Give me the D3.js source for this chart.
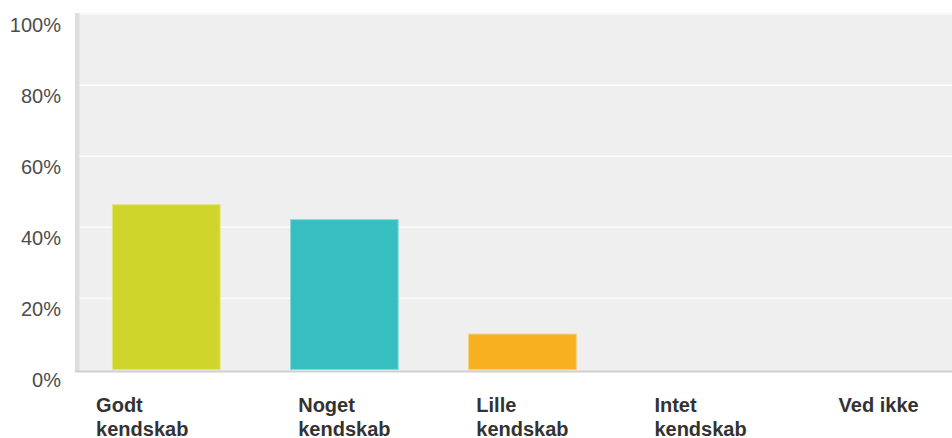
<!DOCTYPE html>
<html>
<head>
<meta charset="utf-8">
<script src="https://cdn.jsdelivr.net/npm/d3@7"></script>
<style>
  body { margin: 0; background: #fff; }
  svg { display: block; font-family: "Liberation Sans", Arial, sans-serif; }
  .y-axis text { fill: #4d4d4d; font-size: 20px; }
  .x-label { fill: #333; font-size: 20px; font-weight: bold; }
</style>
</head>
<body>
<svg width="952" height="438"></svg>
<script>
// answers (each label split into lines) and share of respondents in %
var categories = [['Godt', 'kendskab'], ['Noget', 'kendskab'], ['Lille', 'kendskab'], ['Intet', 'kendskab'], ['Ved ikke']];
var shares = [46.5, 42.3, 10.1, 0, 0];
var barColors = ['#cfd52a', '#36bec1', '#f6b020', '#999999', '#999999'];
var barEdges = ['#e2e67a', '#8ad9db', '#f9cf7a', '#cccccc', '#cccccc'];
var yTicks = [0, 20, 40, 60, 80, 100];

var svg = d3.select('svg');

var plot = {l: 75, t: 13, r: 952, b: 371};

var x = d3.scaleBand()
    .domain(d3.range(categories.length))
    .range([77.2, 967.7])
    .paddingInner(0.39)
    .paddingOuter(0.195);

var y = d3.scaleLinear()
    .domain([0, 100])
    .range([369.5, 14]);

// plot background
svg.append('rect')
    .attr('x', plot.l)
    .attr('y', plot.t)
    .attr('width', plot.r - plot.l)
    .attr('height', plot.b - plot.t)
    .attr('fill', '#efefef');

// left shadow edge
svg.append('rect')
    .attr('x', plot.l)
    .attr('y', plot.t)
    .attr('width', 4.5)
    .attr('height', plot.b - plot.t)
    .attr('fill', '#dddddd');

// gridlines
svg.append('g')
    .selectAll('line')
    .data(yTicks.filter(function(d) { return d > 0; }))
    .enter()
    .append('line')
    .attr('x1', plot.l + 4.5)
    .attr('x2', plot.r)
    .attr('y1', function(d) { return y(d); })
    .attr('y2', function(d) { return y(d); })
    .attr('stroke', '#fbfbfb')
    .attr('stroke-width', 1.6);

// bars
svg.append('g')
    .selectAll('rect')
    .data(shares)
    .enter()
    .append('rect')
    .attr('x', function(d, i) { return x(i) + 0.5; })
    .attr('y', function(d) { return y(d) + 0.5; })
    .attr('width', x.bandwidth() - 1)
    .attr('height', function(d) { return Math.max(0, y(0) - y(d) - 0.5); })
    .attr('fill', function(d, i) { return barColors[i]; })
    .attr('stroke', function(d, i) { return barEdges[i]; })
    .attr('stroke-width', function(d) { return d > 0 ? 1 : 0; });

// baseline
svg.append('line')
    .attr('x1', plot.l)
    .attr('x2', plot.r)
    .attr('y1', 371.5)
    .attr('y2', 371.5)
    .attr('stroke', '#d0d0d0')
    .attr('stroke-width', 2);

// y axis labels
var yAxis = d3.axisLeft(y)
    .tickValues(yTicks)
    .tickSize(0)
    .tickPadding(14)
    .tickFormat(function(d) { return d + '%'; });

svg.append('g')
    .attr('class', 'y-axis')
    .attr('transform', 'translate(' + [plot.l, 0] + ')')
    .call(yAxis)
    .call(function(g) { g.select('.domain').remove(); })
    .selectAll('text')
    .attr('font-family', null)
    .attr('font-size', null)
    .attr('fill', null)
    .attr('dy', 17);

// category labels: lines left aligned, block centred under the bar
var labels = svg.append('g')
    .selectAll('text')
    .data(categories)
    .enter()
    .append('text')
    .attr('class', 'x-label');

labels.selectAll('tspan')
    .data(function(d) { return d; })
    .enter()
    .append('tspan')
    .attr('dy', function(d, i) { return i === 0 ? 0 : 24; })
    .text(function(d) { return d; });

labels.each(function(d, i) {
    var node = this;
    var w = 0;
    d3.select(node).selectAll('tspan').each(function() {
        w = Math.max(w, this.getComputedTextLength());
    });
    var shift = i === 0 ? -24 : 0;
    var left = x(i) + x.bandwidth() / 2 - w / 2 + shift;
    d3.select(node).attr('y', 411.5);
    d3.select(node).selectAll('tspan').attr('x', left);
});
</script>
</body>
</html>
